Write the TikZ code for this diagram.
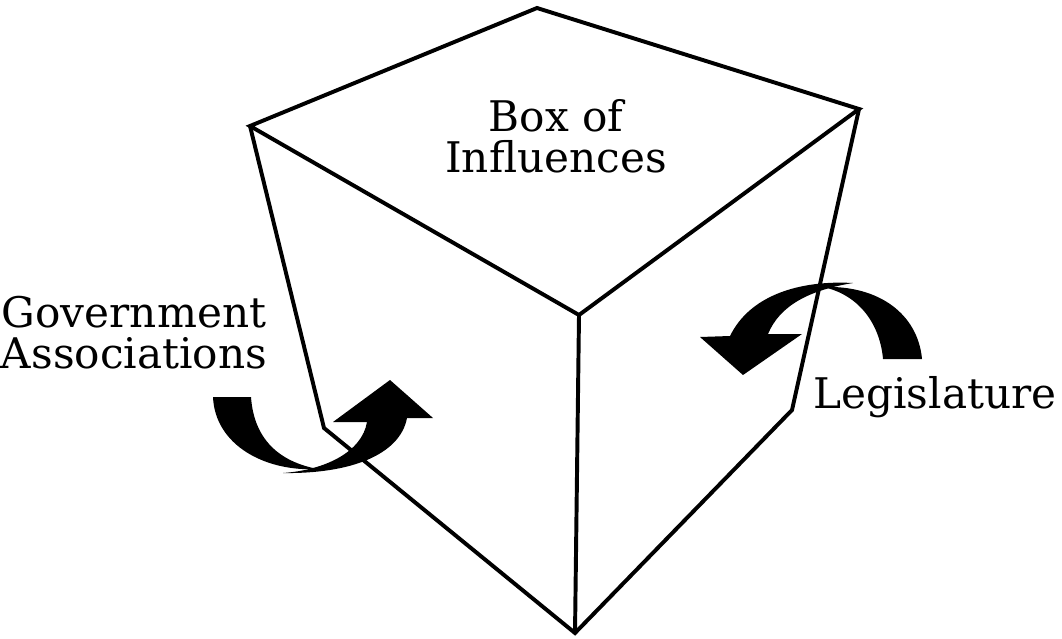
\documentclass[tikz,border=0pt]{standalone}
\usepackage{fontspec}
\setmainfont{DejaVu Serif}
\usepackage{tikz}
\usetikzlibrary{positioning}

\begin{document}
\begin{tikzpicture}[x=0.025cm,y=-0.025cm,
  edge/.style={line width=2.8pt,line join=miter},
  lbl/.style={align=center,inner sep=0pt,font=\fontsize{30}{28.5}\selectfont},
  swoosh/.style={fill=black,draw=none}]
\useasboundingbox (0,0) rectangle (1062,638);
% cube corners
\coordinate (top) at (537,8);
\coordinate (lt) at (250,126);
\coordinate (rt) at (859,109);
\coordinate (mid) at (579,315);
\coordinate (lb) at (324,428);
\coordinate (rb) at (792,410);
\coordinate (bot) at (575,633);
\draw[edge] (top) -- (lt) -- (mid) -- (rt) -- cycle;
\draw[edge] (mid) -- (bot);
\draw[edge] (lt) -- (lb) -- (bot) -- (rb) -- (rt);
% left swoosh
\fill[swoosh] (213,397) -- (251,397) .. controls (254,440) and (280,462) .. (318,469)
  .. controls (265,472) and (215,445) .. (213,397) -- cycle;
\fill[swoosh] (283,473) .. controls (350,474) and (400,455) .. (407,418) -- (433,418)
  -- (390,380) -- (333,422) -- (367,422) .. controls (362,452) and (325,470) .. (283,473) -- cycle;
% right swoosh
\fill[swoosh] (853,283) .. controls (800,280) and (750,295) .. (730,336) -- (700,337)
  -- (743,375) -- (802,334) -- (768,334) .. controls (780,305) and (810,290) .. (853,283) -- cycle;
\fill[swoosh] (823,287) .. controls (880,285) and (918,315) .. (922,359) -- (883,359)
  .. controls (880,325) and (860,295) .. (823,287) -- cycle;
% labels
\node[lbl,anchor=base] (boxlbl) at (556,172) {Box of\\Influences};
\node[lbl,anchor=base] (govlbl) at (134,368) {Government\\Associations};
\node[lbl,anchor=base] (leglbl) at (935,408) {Legislature};
\end{tikzpicture}
\end{document}
